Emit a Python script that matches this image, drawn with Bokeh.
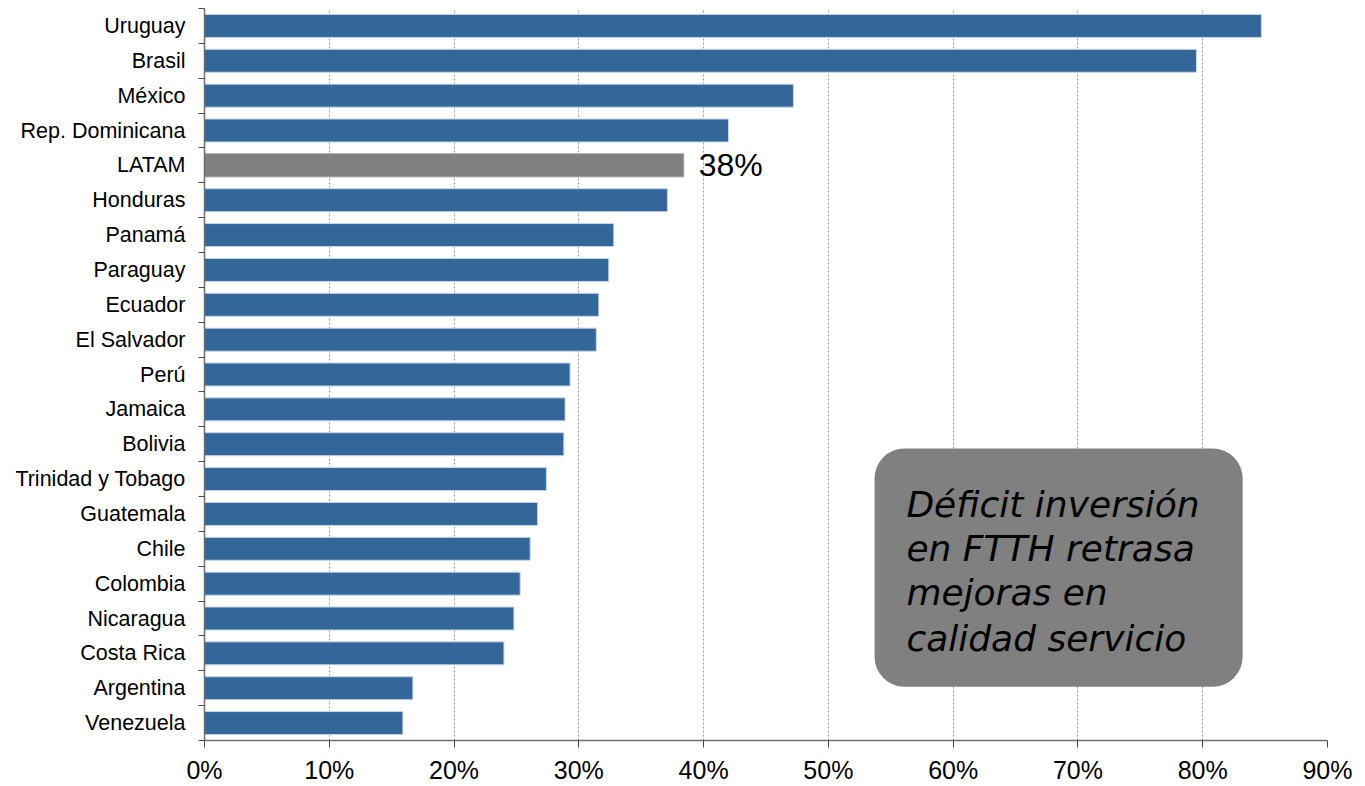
from bokeh.plotting import figure
from bokeh.models import (ColumnDataSource, FixedTicker, NumeralTickFormatter,
                          BoxAnnotation, Label, Range1d)
from bokeh.embed import file_html
from bokeh.resources import INLINE

# Data (top to bottom)
countries = ["Uruguay", "Brasil", "México", "Rep. Dominicana", "LATAM", "Honduras",
             "Panamá", "Paraguay", "Ecuador", "El Salvador", "Perú", "Jamaica",
             "Bolivia", "Trinidad y Tobago", "Guatemala", "Chile", "Colombia",
             "Nicaragua", "Costa Rica", "Argentina", "Venezuela"]
values = [0.847, 0.795, 0.472, 0.420, 0.384, 0.371, 0.328, 0.324, 0.316, 0.314,
          0.293, 0.289, 0.288, 0.274, 0.267, 0.261, 0.253, 0.248, 0.240, 0.167, 0.159]
highlight = "LATAM"
x_ticks = [0.0, 0.1, 0.2, 0.3, 0.4, 0.5, 0.6, 0.7, 0.8, 0.9]
note_lines = ["Déficit inversión", "en FTTH retrasa", "mejoras en", "calidad servicio"]

BLUE = "#336699"
GREY = "#808080"

n = len(countries)
ypos = [n - i for i in range(n)]
colors = [GREY if c == highlight else BLUE for c in countries]
borders = ["#9a9a9a" if c == highlight else "#c8d8ea" for c in countries]

src = ColumnDataSource(dict(y=ypos, v=values, name=countries, color=colors, border=borders))

p = figure(width=1365, height=786, output_backend="svg", toolbar_location=None,
           x_range=Range1d(0, 0.9), y_range=Range1d(0.5, n + 0.5),
           min_border_left=204, min_border_right=38, min_border_top=8,
           min_border_bottom=44)
p.outline_line_color = None
p.background_fill_color = "white"
p.border_fill_color = "white"

p.hbar(y="y", right="v", left=0, height=0.66, source=src,
       fill_color="color", line_color="border", line_width=1)

# x axis
p.xaxis.ticker = FixedTicker(ticks=x_ticks)
p.xaxis.formatter = NumeralTickFormatter(format="0%")
p.xaxis.major_label_text_font = "Liberation Sans"
p.xaxis.major_label_text_font_size = "25px"
p.xaxis.major_label_text_color = "black"
p.xaxis.axis_line_color = "#6e6e6e"
p.xaxis.axis_line_width = 1.5
p.xaxis.major_tick_line_color = "#4a4a4a"
p.xaxis.major_tick_out = 7
p.xaxis.major_tick_in = 0
p.xaxis.minor_tick_line_color = None
p.xaxis.major_label_standoff = 8

# y axis
p.yaxis.ticker = FixedTicker(ticks=ypos, minor_ticks=[k + 0.5 for k in range(n + 1)])
p.yaxis.major_label_overrides = {y: c for y, c in zip(ypos, countries)}
p.yaxis.major_label_text_font = "Liberation Sans"
p.yaxis.major_label_text_font_size = "21.5px"
p.yaxis.major_label_text_color = "black"
p.yaxis.axis_line_color = "#6e6e6e"
p.yaxis.axis_line_width = 1.5
p.yaxis.major_tick_out = 0
p.yaxis.major_tick_in = 0
p.yaxis.minor_tick_out = 6
p.yaxis.minor_tick_in = 0
p.yaxis.minor_tick_line_color = "#4a4a4a"
p.yaxis.major_label_standoff = 13

# grids
p.ygrid.grid_line_color = None
p.xgrid.ticker = FixedTicker(ticks=x_ticks[1:])
p.xgrid.grid_line_color = "#9a9a9a"
p.xgrid.grid_line_dash = "2 2"
p.xgrid.grid_line_width = 1

# LATAM value label
li = countries.index(highlight)
p.add_layout(Label(x=values[li], y=ypos[li], text=f"{values[li]:.0%}",
                   x_offset=15, text_baseline="middle", text_align="left",
                   text_font="Liberation Sans", text_font_size="32px",
                   text_color="black"))

# note box
p.add_layout(BoxAnnotation(left=0.537, right=0.832, top=8.88, bottom=2.04,
                           fill_color=GREY, fill_alpha=1.0, line_color=None,
                           border_radius=30, level="overlay"))
note_y = [7.28, 6.02, 4.74, 3.42]
for t, yy in zip(note_lines, note_y):
    p.add_layout(Label(x=0.5625, y=yy, text=t, text_baseline="alphabetic",
                       text_align="left", text_font="DejaVu Sans",
                       text_font_style="italic", text_font_size="36px",
                       text_color="black", level="overlay"))

open("out.html", "w").write(file_html(p, INLINE))
